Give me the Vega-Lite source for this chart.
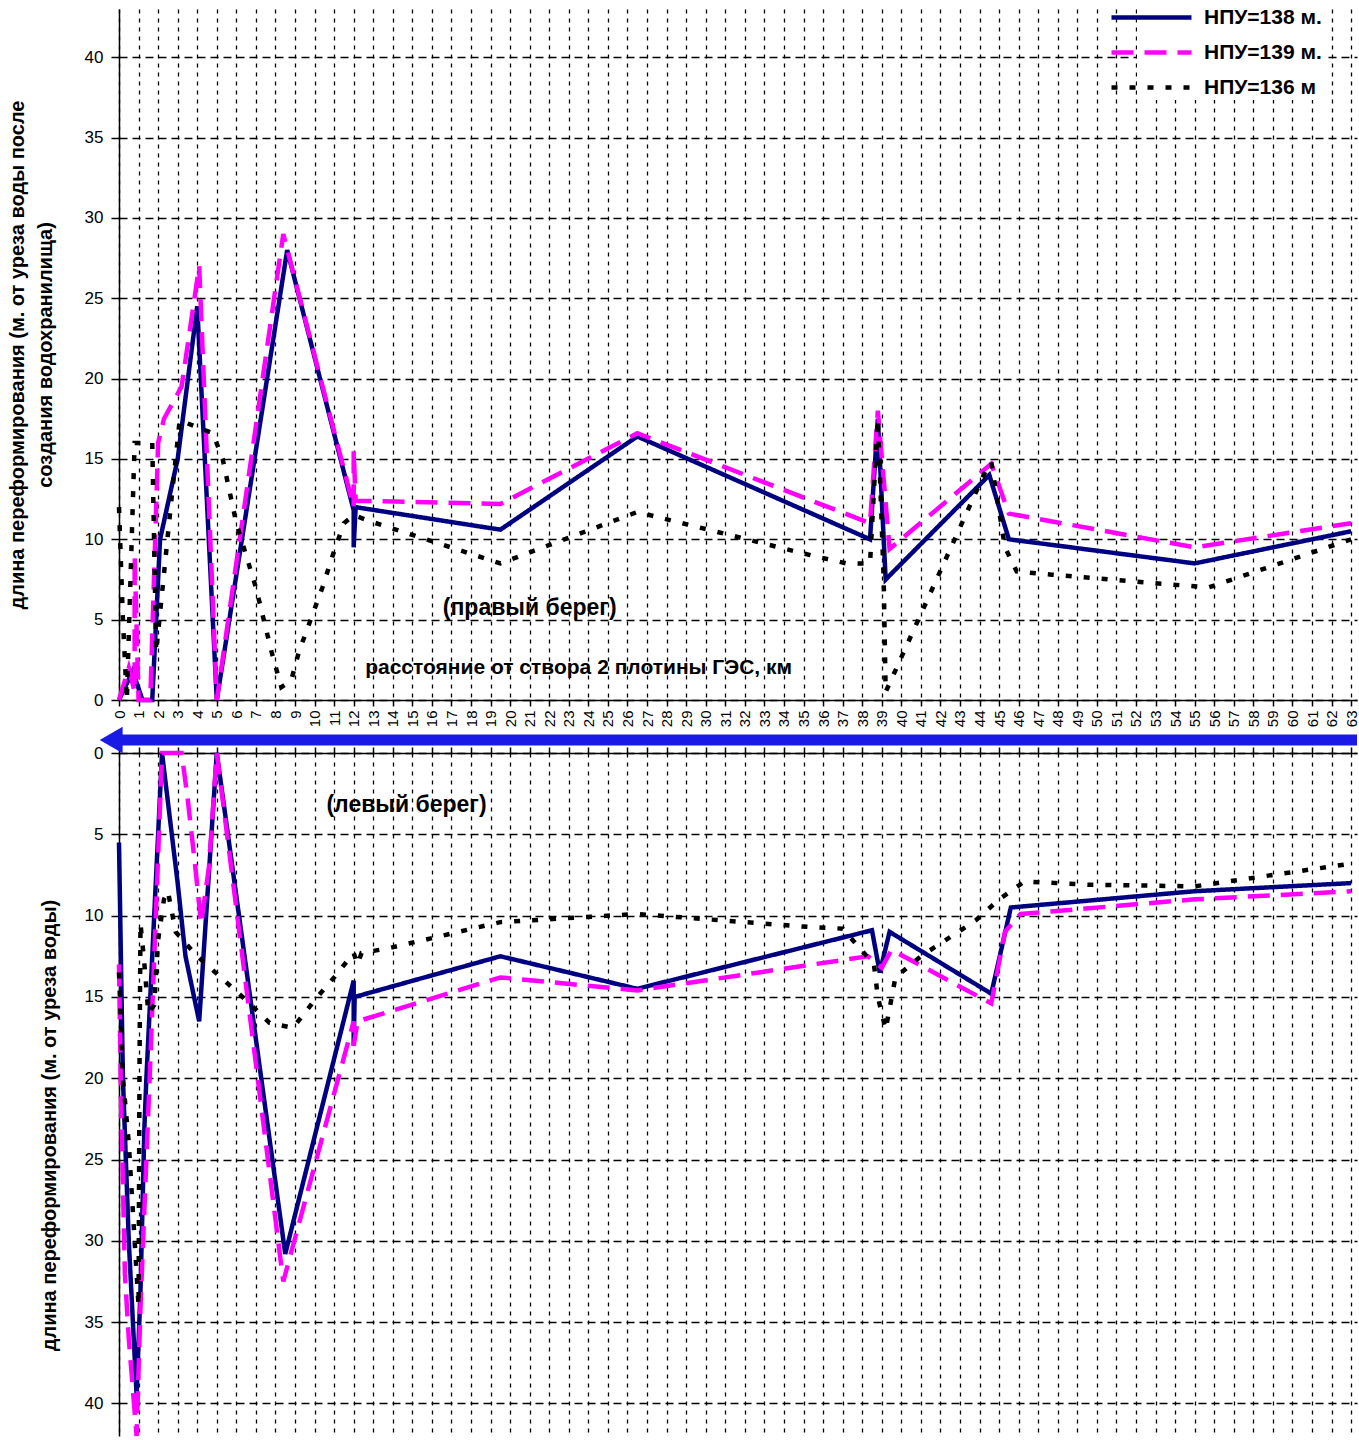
{
  "$schema": "https://vega.github.io/schema/vega-lite/v6.json",
  "background": "white",
  "padding": {"left": 7, "top": 3, "right": 0, "bottom": 0},
  "bounds": "flush",
  "spacing": 53,
  "config": {
    "view": {"stroke": null},
    "font": "Liberation Sans",
    "axis": {
      "domainColor": "#000", "domainWidth": 1.5,
      "tickColor": "#000", "tickWidth": 1.5,
      "gridColor": "#000", "gridWidth": 1.3, "gridOpacity": 1,
      "labelColor": "#000", "labelFont": "Liberation Sans",
      "titleColor": "#000", "titleFont": "Liberation Sans"
    },
    "axisX": {"gridDash": [4, 5], "tickSize": 6},
    "axisY": {"gridDash": [8, 5], "tickSize": 8}
  },
  "resolve": {"scale": {"color": "independent", "strokeDash": "independent"}},
  "datasets": {
    "right": [
      {"s": "НПУ=138 м.", "i": 1, "km": 0, "v": 0},
      {"s": "НПУ=138 м.", "i": 2, "km": 0.7, "v": 1.8},
      {"s": "НПУ=138 м.", "i": 3, "km": 1.2, "v": 0},
      {"s": "НПУ=138 м.", "i": 4, "km": 1.7, "v": 0},
      {"s": "НПУ=138 м.", "i": 5, "km": 2.1, "v": 10},
      {"s": "НПУ=138 м.", "i": 6, "km": 3, "v": 15},
      {"s": "НПУ=138 м.", "i": 7, "km": 4, "v": 24.5},
      {"s": "НПУ=138 м.", "i": 8, "km": 5, "v": 0},
      {"s": "НПУ=138 м.", "i": 9, "km": 8.6, "v": 28},
      {"s": "НПУ=138 м.", "i": 10, "km": 12, "v": 11.8},
      {"s": "НПУ=138 м.", "i": 11, "km": 12, "v": 9.5},
      {"s": "НПУ=138 м.", "i": 12, "km": 12.1, "v": 12},
      {"s": "НПУ=138 м.", "i": 13, "km": 19.5, "v": 10.6},
      {"s": "НПУ=138 м.", "i": 14, "km": 26.5, "v": 16.4},
      {"s": "НПУ=138 м.", "i": 15, "km": 38.4, "v": 10},
      {"s": "НПУ=138 м.", "i": 16, "km": 38.8, "v": 17.5},
      {"s": "НПУ=138 м.", "i": 17, "km": 39.2, "v": 7.5},
      {"s": "НПУ=138 м.", "i": 18, "km": 44.5, "v": 14},
      {"s": "НПУ=138 м.", "i": 19, "km": 45.5, "v": 10},
      {"s": "НПУ=138 м.", "i": 20, "km": 55, "v": 8.5},
      {"s": "НПУ=138 м.", "i": 21, "km": 63, "v": 10.5},

      {"s": "НПУ=139 м.", "i": 1, "km": 0, "v": 0},
      {"s": "НПУ=139 м.", "i": 2, "km": 0.5, "v": 2},
      {"s": "НПУ=139 м.", "i": 3, "km": 0.8, "v": 0.5},
      {"s": "НПУ=139 м.", "i": 4, "km": 0.8, "v": 9},
      {"s": "НПУ=139 м.", "i": 5, "km": 1.0, "v": 0},
      {"s": "НПУ=139 м.", "i": 6, "km": 1.6, "v": 0},
      {"s": "НПУ=139 м.", "i": 7, "km": 2.0, "v": 16},
      {"s": "НПУ=139 м.", "i": 8, "km": 2.3, "v": 17.5},
      {"s": "НПУ=139 м.", "i": 9, "km": 3.2, "v": 19.5},
      {"s": "НПУ=139 м.", "i": 10, "km": 4.1, "v": 27},
      {"s": "НПУ=139 м.", "i": 11, "km": 5, "v": 0},
      {"s": "НПУ=139 м.", "i": 12, "km": 8.4, "v": 29},
      {"s": "НПУ=139 м.", "i": 13, "km": 12, "v": 12},
      {"s": "НПУ=139 м.", "i": 14, "km": 12, "v": 15.5},
      {"s": "НПУ=139 м.", "i": 15, "km": 12.1, "v": 12.4},
      {"s": "НПУ=139 м.", "i": 16, "km": 19.5, "v": 12.2},
      {"s": "НПУ=139 м.", "i": 17, "km": 26.5, "v": 16.6},
      {"s": "НПУ=139 м.", "i": 18, "km": 38.4, "v": 11},
      {"s": "НПУ=139 м.", "i": 19, "km": 38.8, "v": 18},
      {"s": "НПУ=139 м.", "i": 20, "km": 39.4, "v": 9.4},
      {"s": "НПУ=139 м.", "i": 21, "km": 44.6, "v": 14.7},
      {"s": "НПУ=139 м.", "i": 22, "km": 45.5, "v": 11.6},
      {"s": "НПУ=139 м.", "i": 23, "km": 55, "v": 9.5},
      {"s": "НПУ=139 м.", "i": 24, "km": 63, "v": 11},

      {"s": "НПУ=136 м", "i": 1, "km": 0, "v": 12},
      {"s": "НПУ=136 м", "i": 2, "km": 0.2, "v": 5},
      {"s": "НПУ=136 м", "i": 3, "km": 0.4, "v": 0},
      {"s": "НПУ=136 м", "i": 4, "km": 0.8, "v": 16},
      {"s": "НПУ=136 м", "i": 5, "km": 1.7, "v": 16},
      {"s": "НПУ=136 м", "i": 6, "km": 1.9, "v": 3},
      {"s": "НПУ=136 м", "i": 7, "km": 2.6, "v": 11.5},
      {"s": "НПУ=136 м", "i": 8, "km": 3.1, "v": 17.4},
      {"s": "НПУ=136 м", "i": 9, "km": 4.8, "v": 16.6},
      {"s": "НПУ=136 м", "i": 10, "km": 5.3, "v": 15},
      {"s": "НПУ=136 м", "i": 11, "km": 6, "v": 11},
      {"s": "НПУ=136 м", "i": 12, "km": 7, "v": 7},
      {"s": "НПУ=136 м", "i": 13, "km": 7.8, "v": 3},
      {"s": "НПУ=136 м", "i": 14, "km": 8.3, "v": 0.8},
      {"s": "НПУ=136 м", "i": 15, "km": 8.8, "v": 1.2},
      {"s": "НПУ=136 м", "i": 16, "km": 9.2, "v": 3},
      {"s": "НПУ=136 м", "i": 17, "km": 9.8, "v": 5},
      {"s": "НПУ=136 м", "i": 18, "km": 10.4, "v": 7},
      {"s": "НПУ=136 м", "i": 19, "km": 10.9, "v": 8.9},
      {"s": "НПУ=136 м", "i": 20, "km": 11.5, "v": 11},
      {"s": "НПУ=136 м", "i": 21, "km": 12, "v": 11.5},
      {"s": "НПУ=136 м", "i": 22, "km": 12.9, "v": 11.1},
      {"s": "НПУ=136 м", "i": 23, "km": 19.5, "v": 8.5},
      {"s": "НПУ=136 м", "i": 24, "km": 26.5, "v": 11.7},
      {"s": "НПУ=136 м", "i": 25, "km": 35.4, "v": 9},
      {"s": "НПУ=136 м", "i": 26, "km": 37.2, "v": 8.5},
      {"s": "НПУ=136 м", "i": 27, "km": 38.4, "v": 8.5},
      {"s": "НПУ=136 м", "i": 28, "km": 38.8, "v": 17.5},
      {"s": "НПУ=136 м", "i": 29, "km": 39.1, "v": 7.5},
      {"s": "НПУ=136 м", "i": 30, "km": 39.2, "v": 0.5},
      {"s": "НПУ=136 м", "i": 31, "km": 44.4, "v": 14.5},
      {"s": "НПУ=136 м", "i": 32, "km": 44.6, "v": 14.8},
      {"s": "НПУ=136 м", "i": 33, "km": 45.3, "v": 9.5},
      {"s": "НПУ=136 м", "i": 34, "km": 45.9, "v": 8},
      {"s": "НПУ=136 м", "i": 35, "km": 47.7, "v": 7.8},
      {"s": "НПУ=136 м", "i": 36, "km": 55.7, "v": 7},
      {"s": "НПУ=136 м", "i": 37, "km": 63, "v": 10}
    ],
    "left": [
      {"s": "НПУ=138 м.", "i": 1, "km": 0, "v": 5.5},
      {"s": "НПУ=138 м.", "i": 2, "km": 0.2, "v": 20},
      {"s": "НПУ=138 м.", "i": 3, "km": 0.5, "v": 30},
      {"s": "НПУ=138 м.", "i": 4, "km": 0.9, "v": 39.5},
      {"s": "НПУ=138 м.", "i": 5, "km": 1.1, "v": 33},
      {"s": "НПУ=138 м.", "i": 6, "km": 1.3, "v": 23},
      {"s": "НПУ=138 м.", "i": 7, "km": 1.4, "v": 20},
      {"s": "НПУ=138 м.", "i": 8, "km": 2.2, "v": 0},
      {"s": "НПУ=138 м.", "i": 9, "km": 3, "v": 8},
      {"s": "НПУ=138 м.", "i": 10, "km": 3.4, "v": 12.5},
      {"s": "НПУ=138 м.", "i": 11, "km": 4.1, "v": 16.5},
      {"s": "НПУ=138 м.", "i": 12, "km": 5, "v": 0},
      {"s": "НПУ=138 м.", "i": 13, "km": 8.5, "v": 30.8},
      {"s": "НПУ=138 м.", "i": 14, "km": 12, "v": 14},
      {"s": "НПУ=138 м.", "i": 15, "km": 12, "v": 18},
      {"s": "НПУ=138 м.", "i": 16, "km": 12.05, "v": 15},
      {"s": "НПУ=138 м.", "i": 17, "km": 19.5, "v": 12.5},
      {"s": "НПУ=138 м.", "i": 18, "km": 26.5, "v": 14.5},
      {"s": "НПУ=138 м.", "i": 19, "km": 38.5, "v": 10.9},
      {"s": "НПУ=138 м.", "i": 20, "km": 38.9, "v": 13.5},
      {"s": "НПУ=138 м.", "i": 21, "km": 39.4, "v": 11},
      {"s": "НПУ=138 м.", "i": 22, "km": 44.6, "v": 14.8},
      {"s": "НПУ=138 м.", "i": 23, "km": 45.6, "v": 9.5},
      {"s": "НПУ=138 м.", "i": 24, "km": 55, "v": 8.5},
      {"s": "НПУ=138 м.", "i": 25, "km": 63, "v": 8},

      {"s": "НПУ=139 м.", "i": 1, "km": 0, "v": 13},
      {"s": "НПУ=139 м.", "i": 2, "km": 0.1, "v": 21},
      {"s": "НПУ=139 м.", "i": 3, "km": 0.3, "v": 32},
      {"s": "НПУ=139 м.", "i": 4, "km": 0.5, "v": 36},
      {"s": "НПУ=139 м.", "i": 5, "km": 0.9, "v": 42},
      {"s": "НПУ=139 м.", "i": 6, "km": 1.1, "v": 34},
      {"s": "НПУ=139 м.", "i": 7, "km": 1.4, "v": 25},
      {"s": "НПУ=139 м.", "i": 8, "km": 1.6, "v": 19},
      {"s": "НПУ=139 м.", "i": 9, "km": 2.2, "v": 0},
      {"s": "НПУ=139 м.", "i": 10, "km": 3.2, "v": 0},
      {"s": "НПУ=139 м.", "i": 11, "km": 3.5, "v": 2.7},
      {"s": "НПУ=139 м.", "i": 12, "km": 3.9, "v": 7},
      {"s": "НПУ=139 м.", "i": 13, "km": 4.2, "v": 10.5},
      {"s": "НПУ=139 м.", "i": 14, "km": 4.6, "v": 7},
      {"s": "НПУ=139 м.", "i": 15, "km": 5, "v": 0},
      {"s": "НПУ=139 м.", "i": 16, "km": 8.4, "v": 32.5},
      {"s": "НПУ=139 м.", "i": 17, "km": 12, "v": 16.5},
      {"s": "НПУ=139 м.", "i": 18, "km": 12, "v": 18},
      {"s": "НПУ=139 м.", "i": 19, "km": 12.2, "v": 16.5},
      {"s": "НПУ=139 м.", "i": 20, "km": 19.5, "v": 13.8},
      {"s": "НПУ=139 м.", "i": 21, "km": 26.5, "v": 14.6},
      {"s": "НПУ=139 м.", "i": 22, "km": 38.3, "v": 12.5},
      {"s": "НПУ=139 м.", "i": 23, "km": 39, "v": 13.2},
      {"s": "НПУ=139 м.", "i": 24, "km": 39.5, "v": 12.1},
      {"s": "НПУ=139 м.", "i": 25, "km": 44.6, "v": 15.4},
      {"s": "НПУ=139 м.", "i": 26, "km": 45.3, "v": 11},
      {"s": "НПУ=139 м.", "i": 27, "km": 46.1, "v": 9.9},
      {"s": "НПУ=139 м.", "i": 28, "km": 55, "v": 9},
      {"s": "НПУ=139 м.", "i": 29, "km": 63, "v": 8.5},

      {"s": "НПУ=136 м", "i": 1, "km": 0, "v": 13.5},
      {"s": "НПУ=136 м", "i": 2, "km": 0.2, "v": 20},
      {"s": "НПУ=136 м", "i": 3, "km": 0.5, "v": 24},
      {"s": "НПУ=136 м", "i": 4, "km": 1.0, "v": 34},
      {"s": "НПУ=136 м", "i": 5, "km": 1.05, "v": 19},
      {"s": "НПУ=136 м", "i": 6, "km": 1.1, "v": 10.5},
      {"s": "НПУ=136 м", "i": 7, "km": 1.3, "v": 13},
      {"s": "НПУ=136 м", "i": 8, "km": 1.5, "v": 16},
      {"s": "НПУ=136 м", "i": 9, "km": 1.8, "v": 15.5},
      {"s": "НПУ=136 м", "i": 10, "km": 2.0, "v": 11.5},
      {"s": "НПУ=136 м", "i": 11, "km": 2.3, "v": 9},
      {"s": "НПУ=136 м", "i": 12, "km": 2.5, "v": 8.5},
      {"s": "НПУ=136 м", "i": 13, "km": 2.9, "v": 11},
      {"s": "НПУ=136 м", "i": 14, "km": 4, "v": 12.5},
      {"s": "НПУ=136 м", "i": 15, "km": 5.3, "v": 13.9},
      {"s": "НПУ=136 м", "i": 16, "km": 6.5, "v": 15.2},
      {"s": "НПУ=136 м", "i": 17, "km": 7.7, "v": 16.6},
      {"s": "НПУ=136 м", "i": 18, "km": 8.9, "v": 16.9},
      {"s": "НПУ=136 м", "i": 19, "km": 10, "v": 15.2},
      {"s": "НПУ=136 м", "i": 20, "km": 11, "v": 13.8},
      {"s": "НПУ=136 м", "i": 21, "km": 12, "v": 12.3},
      {"s": "НПУ=136 м", "i": 22, "km": 12.2, "v": 13},
      {"s": "НПУ=136 м", "i": 23, "km": 12.4, "v": 12.3},
      {"s": "НПУ=136 м", "i": 24, "km": 13.8, "v": 12},
      {"s": "НПУ=136 м", "i": 25, "km": 19.5, "v": 10.4},
      {"s": "НПУ=136 м", "i": 26, "km": 26.5, "v": 9.9},
      {"s": "НПУ=136 м", "i": 27, "km": 35.3, "v": 10.7},
      {"s": "НПУ=136 м", "i": 28, "km": 37, "v": 10.8},
      {"s": "НПУ=136 м", "i": 29, "km": 38.6, "v": 13},
      {"s": "НПУ=136 м", "i": 30, "km": 38.8, "v": 15},
      {"s": "НПУ=136 м", "i": 31, "km": 39.2, "v": 17},
      {"s": "НПУ=136 м", "i": 32, "km": 39.7, "v": 13.8},
      {"s": "НПУ=136 м", "i": 33, "km": 41, "v": 12.5},
      {"s": "НПУ=136 м", "i": 34, "km": 42.4, "v": 11.4},
      {"s": "НПУ=136 м", "i": 35, "km": 43.8, "v": 10.3},
      {"s": "НПУ=136 м", "i": 36, "km": 45, "v": 9},
      {"s": "НПУ=136 м", "i": 37, "km": 46.3, "v": 7.9},
      {"s": "НПУ=136 м", "i": 38, "km": 49.6, "v": 8.1},
      {"s": "НПУ=136 м", "i": 39, "km": 55, "v": 8.2},
      {"s": "НПУ=136 м", "i": 40, "km": 63, "v": 6.8}
    ]
  },
  "vconcat": [
    {
      "width": 1238,
      "height": 691,
      "layer": [
        {
          "data": {"name": "right"},
          "mark": {"type": "line", "strokeWidth": 4.5},
          "encoding": {
            "x": {
              "field": "km", "type": "quantitative",
              "scale": {"domain": [0, 63.3], "nice": false, "zero": false},
              "axis": {
                "title": null, "grid": true,
                "values": [0,1,2,3,4,5,6,7,8,9,10,11,12,13,14,15,16,17,18,19,20,21,22,23,24,25,26,27,28,29,30,31,32,33,34,35,36,37,38,39,40,41,42,43,44,45,46,47,48,49,50,51,52,53,54,55,56,57,58,59,60,61,62,63],
                "labelAngle": 270, "labelAlign": "right", "labelBaseline": "middle",
                "labelFontSize": 15, "labelPadding": 4, "labelOverlap": false, "labelFlush": false
              }
            },
            "y": {
              "field": "v", "type": "quantitative",
              "scale": {"domain": [0, 43], "nice": false},
              "axis": {
                "values": [0, 5, 10, 15, 20, 25, 30, 35, 40],
                "title": ["длина переформирования (м. от уреза воды после", "создания водохранилища)"],
                "titleFontSize": 20, "titleFontWeight": "bold", "titleLineHeight": 28,
                "titlePadding": 29, "labelFontSize": 17, "labelPadding": 8
              }
            },
            "color": {
              "field": "s", "type": "nominal",
              "scale": {"domain": ["НПУ=138 м.", "НПУ=139 м.", "НПУ=136 м"], "range": ["#000080", "#ff00ff", "#000000"]},
              "legend": {
                "title": null, "orient": "none", "legendX": 1018, "legendY": -6,
                "labelFontSize": 21, "labelFontWeight": "bold", "labelFont": "Liberation Sans", "labelColor": "#000",
                "symbolType": "M-4,0H4", "symbolSize": 400, "symbolStrokeWidth": 4.5,
                "rowPadding": 12, "fillColor": "white", "padding": 2, "labelOffset": 40, "labelLimit": 300
              }
            },
            "strokeDash": {
              "field": "s", "type": "nominal",
              "scale": {"domain": ["НПУ=138 м.", "НПУ=139 м.", "НПУ=136 м"], "range": [[1, 0], [22, 11], [6, 12]]},
              "legend": {
                "title": null, "orient": "none", "legendX": 1018, "legendY": -6,
                "labelFontSize": 21, "labelFontWeight": "bold", "labelFont": "Liberation Sans", "labelColor": "#000",
                "symbolType": "M-4,0H4", "symbolSize": 400, "symbolStrokeWidth": 4.5,
                "rowPadding": 12, "fillColor": "white", "padding": 2, "labelOffset": 40, "labelLimit": 300
              }
            },
            "order": {"field": "i", "type": "quantitative"}
          }
        },
        {
          "data": {"values": [{}]},
          "mark": {"type": "text", "fontSize": 23, "fontWeight": "bold", "font": "Liberation Sans", "color": "#000"},
          "encoding": {
            "x": {
              "datum": 21, "type": "quantitative",
              "scale": {"domain": [0, 63.3], "nice": false, "zero": false},
              "axis": {
                "title": null, "grid": true,
                "values": [0,1,2,3,4,5,6,7,8,9,10,11,12,13,14,15,16,17,18,19,20,21,22,23,24,25,26,27,28,29,30,31,32,33,34,35,36,37,38,39,40,41,42,43,44,45,46,47,48,49,50,51,52,53,54,55,56,57,58,59,60,61,62,63],
                "labelAngle": 270, "labelAlign": "right", "labelBaseline": "middle",
                "labelFontSize": 15, "labelPadding": 4, "labelOverlap": false, "labelFlush": false
              }
            },
            "y": {
              "datum": 5.7, "type": "quantitative",
              "scale": {"domain": [0, 43], "nice": false},
              "axis": {
                "values": [0, 5, 10, 15, 20, 25, 30, 35, 40],
                "title": ["длина переформирования (м. от уреза воды после", "создания водохранилища)"],
                "titleFontSize": 20, "titleFontWeight": "bold", "titleLineHeight": 28,
                "titlePadding": 29, "labelFontSize": 17, "labelPadding": 8
              }
            },
            "text": {"value": "(правый берег)"}
          }
        },
        {
          "data": {"values": [{}]},
          "mark": {"type": "text", "fontSize": 21, "fontWeight": "bold", "font": "Liberation Sans", "color": "#000"},
          "encoding": {
            "x": {
              "datum": 23.5, "type": "quantitative",
              "scale": {"domain": [0, 63.3], "nice": false, "zero": false},
              "axis": {
                "title": null, "grid": true,
                "values": [0,1,2,3,4,5,6,7,8,9,10,11,12,13,14,15,16,17,18,19,20,21,22,23,24,25,26,27,28,29,30,31,32,33,34,35,36,37,38,39,40,41,42,43,44,45,46,47,48,49,50,51,52,53,54,55,56,57,58,59,60,61,62,63],
                "labelAngle": 270, "labelAlign": "right", "labelBaseline": "middle",
                "labelFontSize": 15, "labelPadding": 4, "labelOverlap": false, "labelFlush": false
              }
            },
            "y": {
              "datum": 2.0, "type": "quantitative",
              "scale": {"domain": [0, 43], "nice": false},
              "axis": {
                "values": [0, 5, 10, 15, 20, 25, 30, 35, 40],
                "title": ["длина переформирования (м. от уреза воды после", "создания водохранилища)"],
                "titleFontSize": 20, "titleFontWeight": "bold", "titleLineHeight": 28,
                "titlePadding": 29, "labelFontSize": 17, "labelPadding": 8
              }
            },
            "text": {"value": "расстояние от створа 2 плотины ГЭС, км"}
          }
        }
      ]
    },
    {
      "width": 1238,
      "height": 683,
      "layer": [
        {
          "data": {"name": "left"},
          "mark": {"type": "line", "strokeWidth": 4.5},
          "encoding": {
            "x": {
              "field": "km", "type": "quantitative",
              "scale": {"domain": [0, 63.3], "nice": false, "zero": false},
              "axis": {
                "title": null, "grid": true, "orient": "top", "labels": false,
                "values": [0,1,2,3,4,5,6,7,8,9,10,11,12,13,14,15,16,17,18,19,20,21,22,23,24,25,26,27,28,29,30,31,32,33,34,35,36,37,38,39,40,41,42,43,44,45,46,47,48,49,50,51,52,53,54,55,56,57,58,59,60,61,62,63]
              }
            },
            "y": {
              "field": "v", "type": "quantitative",
              "scale": {"domain": [0, 42], "nice": false, "reverse": true},
              "axis": {
                "values": [0, 5, 10, 15, 20, 25, 30, 35, 40],
                "title": "длина переформирования (м. от уреза воды)",
                "titleFontSize": 20, "titleFontWeight": "bold", "titleY": 372,
                "titlePadding": 25, "labelFontSize": 17, "labelPadding": 8
              }
            },
            "color": {
              "field": "s", "type": "nominal",
              "scale": {"domain": ["НПУ=138 м.", "НПУ=139 м.", "НПУ=136 м"], "range": ["#000080", "#ff00ff", "#000000"]},
              "legend": null
            },
            "strokeDash": {
              "field": "s", "type": "nominal",
              "scale": {"domain": ["НПУ=138 м.", "НПУ=139 м.", "НПУ=136 м"], "range": [[1, 0], [22, 11], [6, 12]]},
              "legend": null
            },
            "order": {"field": "i", "type": "quantitative"}
          }
        },
        {
          "data": {"values": [{}]},
          "mark": {"type": "text", "fontSize": 23, "fontWeight": "bold", "font": "Liberation Sans", "color": "#000"},
          "encoding": {
            "x": {
              "datum": 14.7, "type": "quantitative",
              "scale": {"domain": [0, 63.3], "nice": false, "zero": false},
              "axis": {
                "title": null, "grid": true, "orient": "top", "labels": false,
                "values": [0,1,2,3,4,5,6,7,8,9,10,11,12,13,14,15,16,17,18,19,20,21,22,23,24,25,26,27,28,29,30,31,32,33,34,35,36,37,38,39,40,41,42,43,44,45,46,47,48,49,50,51,52,53,54,55,56,57,58,59,60,61,62,63]
              }
            },
            "y": {
              "datum": 3.2, "type": "quantitative",
              "scale": {"domain": [0, 42], "nice": false, "reverse": true},
              "axis": {
                "values": [0, 5, 10, 15, 20, 25, 30, 35, 40],
                "title": "длина переформирования (м. от уреза воды)",
                "titleFontSize": 20, "titleFontWeight": "bold", "titleY": 372,
                "titlePadding": 25, "labelFontSize": 17, "labelPadding": 8
              }
            },
            "text": {"value": "(левый берег)"}
          }
        },
        {
          "data": {"values": [{}]},
          "mark": {"type": "rule", "strokeWidth": 11, "color": "#1a1ae6"},
          "encoding": {
            "x": {
              "datum": -0.4, "type": "quantitative",
              "scale": {"domain": [0, 63.3], "nice": false, "zero": false},
              "axis": {
                "title": null, "grid": true, "orient": "top", "labels": false,
                "values": [0,1,2,3,4,5,6,7,8,9,10,11,12,13,14,15,16,17,18,19,20,21,22,23,24,25,26,27,28,29,30,31,32,33,34,35,36,37,38,39,40,41,42,43,44,45,46,47,48,49,50,51,52,53,54,55,56,57,58,59,60,61,62,63]
              }
            },
            "x2": {"datum": 63.3},
            "y": {
              "datum": -0.8, "type": "quantitative",
              "scale": {"domain": [0, 42], "nice": false, "reverse": true},
              "axis": {
                "values": [0, 5, 10, 15, 20, 25, 30, 35, 40],
                "title": "длина переформирования (м. от уреза воды)",
                "titleFontSize": 20, "titleFontWeight": "bold", "titleY": 372,
                "titlePadding": 25, "labelFontSize": 17, "labelPadding": 8
              }
            }
          }
        },
        {
          "data": {"values": [{}]},
          "mark": {"type": "point", "shape": "triangle-left", "filled": true, "size": 700, "color": "#1a1ae6", "opacity": 1},
          "encoding": {
            "x": {
              "datum": -0.4, "type": "quantitative",
              "scale": {"domain": [0, 63.3], "nice": false, "zero": false},
              "axis": {
                "title": null, "grid": true, "orient": "top", "labels": false,
                "values": [0,1,2,3,4,5,6,7,8,9,10,11,12,13,14,15,16,17,18,19,20,21,22,23,24,25,26,27,28,29,30,31,32,33,34,35,36,37,38,39,40,41,42,43,44,45,46,47,48,49,50,51,52,53,54,55,56,57,58,59,60,61,62,63]
              }
            },
            "y": {
              "datum": -0.8, "type": "quantitative",
              "scale": {"domain": [0, 42], "nice": false, "reverse": true},
              "axis": {
                "values": [0, 5, 10, 15, 20, 25, 30, 35, 40],
                "title": "длина переформирования (м. от уреза воды)",
                "titleFontSize": 20, "titleFontWeight": "bold", "titleY": 372,
                "titlePadding": 25, "labelFontSize": 17, "labelPadding": 8
              }
            }
          }
        }
      ]
    }
  ]
}
